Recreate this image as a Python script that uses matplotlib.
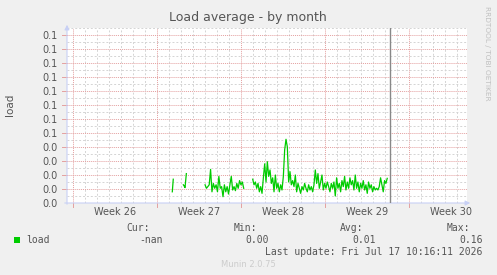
import numpy as np
import matplotlib
matplotlib.use('Agg')
import matplotlib.pyplot as plt

# x axis in days, day 0 = start of Week 26
week_labels = ['Week 26', 'Week 27', 'Week 28', 'Week 29', 'Week 30']
week_starts = [0, 7, 14, 21, 28]
now_day = 26.47

ytick_vals = [0.00, 0.01, 0.02, 0.03, 0.04, 0.05, 0.06, 0.07, 0.08, 0.09, 0.10, 0.11, 0.12]
ytick_labels = ['0.0', '0.0', '0.0', '0.0', '0.0', '0.1', '0.1', '0.1', '0.1', '0.1', '0.1', '0.1', '0.1']

# load samples, in pieces separated by missing data
seg1_days = [8.30, 8.38]
seg1_load = [0.008, 0.017]
seg2_days = [9.22, 9.30, 9.36, 9.47]
seg2_load = [0.013, 0.012, 0.011, 0.021]
seg3_start, seg3_step = 11.03, 0.115
seg3_load = [0.013, 0.0105, 0.0117, 0.013, 0.024, 0.008, 0.014, 0.0105, 0.013, 0.008,
             0.019, 0.0105, 0.0117, 0.0045, 0.013, 0.008, 0.0117, 0.0064, 0.013, 0.019,
             0.0093, 0.0117, 0.0088, 0.014, 0.0105, 0.016, 0.013, 0.015, 0.0105]
seg4_start, seg4_step = 15.0, 0.111
seg4_load = [0.017, 0.013, 0.015, 0.0105, 0.014, 0.008, 0.0117, 0.0069, 0.018, 0.028,
             0.015, 0.0295, 0.019, 0.0236, 0.014, 0.018, 0.008, 0.020, 0.0105, 0.014,
             0.008, 0.013, 0.0093, 0.019, 0.038, 0.0455, 0.040, 0.015, 0.0224, 0.013,
             0.016, 0.0117, 0.020, 0.008, 0.014, 0.0105, 0.0069, 0.0117, 0.0093, 0.014,
             0.0105, 0.008, 0.013, 0.0093, 0.0117, 0.008, 0.013, 0.0236, 0.014, 0.021,
             0.0105, 0.015, 0.020, 0.0093, 0.014, 0.0105, 0.015, 0.0117, 0.008, 0.014,
             0.0105, 0.015, 0.005, 0.018, 0.0105, 0.014, 0.008, 0.016, 0.0117, 0.019,
             0.0093, 0.015, 0.0105, 0.018, 0.013, 0.016, 0.0093, 0.020, 0.0105, 0.015,
             0.008, 0.014, 0.0105, 0.016, 0.0093, 0.013, 0.0069, 0.015, 0.0105, 0.013,
             0.008, 0.0117, 0.0093, 0.0105, 0.0093, 0.0117, 0.018, 0.013, 0.008, 0.016,
             0.014, 0.0176]

stats_hdr = ['Cur:', 'Min:', 'Avg:', 'Max:']
stats_val = ['-nan', '0.00', '0.01', '0.16']
last_update = 'Last update: Fri Jul 17 10:16:11 2026'

W, H = 497, 275
bg = '#f0f0f0'
txt = '#555555'
axc = '#c8d0f5'
red = '#e4a0a0'
gray = '#d4d4d4'
green = '#00cc00'

fig = plt.figure(figsize=(W / 100, H / 100), dpi=100, facecolor=bg)
ax = fig.add_axes([67 / W, 72 / H, 400 / W, 175 / H])
ax.set_facecolor('white')
ax.set_xlim(-0.475, -0.475 + 400 / 12)
ax.set_ylim(0, 0.125)

# grid
for d in np.arange(-0, 33, 1):
    if d not in week_starts:
        ax.axvline(d, color=gray, lw=0.7, ls=(0, (2, 2)), zorder=1)
for y in np.arange(0.005, 0.126, 0.01):
    ax.axhline(y, color=gray, lw=0.7, ls=(0, (2, 2)), zorder=1)
for y in ytick_vals[1:]:
    ax.axhline(y, color=red, lw=0.7, ls=(0, (1, 1)), zorder=2)
    ax.plot([-0.475 - 0.4, -0.475], [y, y], color=red, lw=0.7, clip_on=False)
for d in week_starts:
    ax.axvline(d, color=red, lw=0.7, ls=(0, (1, 1)), zorder=2)
    ax.plot([d, d], [-0.003, 0], color=red, lw=0.7, clip_on=False)

ax.axvline(now_day, color='#888888', lw=1.0, zorder=4)

# data
ax.plot(seg1_days, seg1_load, color=green, lw=0.9, zorder=3)
ax.plot(seg2_days, seg2_load, color=green, lw=0.9, zorder=3)
ax.plot(seg3_start + seg3_step * np.arange(len(seg3_load)), seg3_load, color=green, lw=0.9, zorder=3)
ax.plot(seg4_start + seg4_step * np.arange(len(seg4_load)), seg4_load, color=green, lw=0.9, zorder=3)

for s in ax.spines.values():
    s.set_visible(False)
ax.set_yticks(ytick_vals)
ax.set_yticklabels(ytick_labels)
ax.set_xticks([w + 3.5 for w in week_starts])
ax.set_xticklabels(week_labels)
ax.tick_params(length=0, labelsize=7, labelcolor=txt, pad=3)
ax.tick_params(axis='y', pad=7)

# axis arrows
ax.annotate('', xy=(473, H - 203), xytext=(62, H - 203), xycoords='figure pixels',
            arrowprops=dict(arrowstyle='-|>', color=axc, lw=0.8, mutation_scale=7))
ax.annotate('', xy=(67, H - 22), xytext=(67, H - 207), xycoords='figure pixels',
            arrowprops=dict(arrowstyle='-|>', color=axc, lw=0.8, mutation_scale=7))

def fp(x, y):
    return x / W, 1 - y / H

fig.text(*fp(248, 17), 'Load average - by month', ha='center', va='center', fontsize=9, color=txt)
fig.text(*fp(10, 105), 'load', ha='center', va='center', rotation=90, fontsize=7.5, color=txt)
fig.text(*fp(487, 53), 'RRDTOOL / TOBI OETIKER', ha='center', va='center', rotation=270,
         fontsize=5.3, color='#c0c0c0')

mono = dict(family='DejaVu Sans Mono', fontsize=7, color=txt, va='center')
for h, x in zip(stats_hdr, [150, 257, 363, 470]):
    fig.text(*fp(x, 228), h, ha='right', **mono)
for v, x in zip(stats_val, [162.5, 269, 376, 482.5]):
    fig.text(*fp(x, 240), v, ha='right', **mono)
fig.patches.append(plt.Rectangle(fp(14, 242.5), 5.5 / W, 5.5 / H, transform=fig.transFigure,
                                 facecolor=green, edgecolor='none'))
fig.text(*fp(26.5, 240), 'load', ha='left', **mono)
fig.text(*fp(482.5, 252), last_update, ha='right', **mono)
fig.text(*fp(248, 264.5), 'Munin 2.0.75', ha='center', va='center', fontsize=6, color='#cccccc')

fig.savefig('out.png', dpi=100, facecolor=bg)
